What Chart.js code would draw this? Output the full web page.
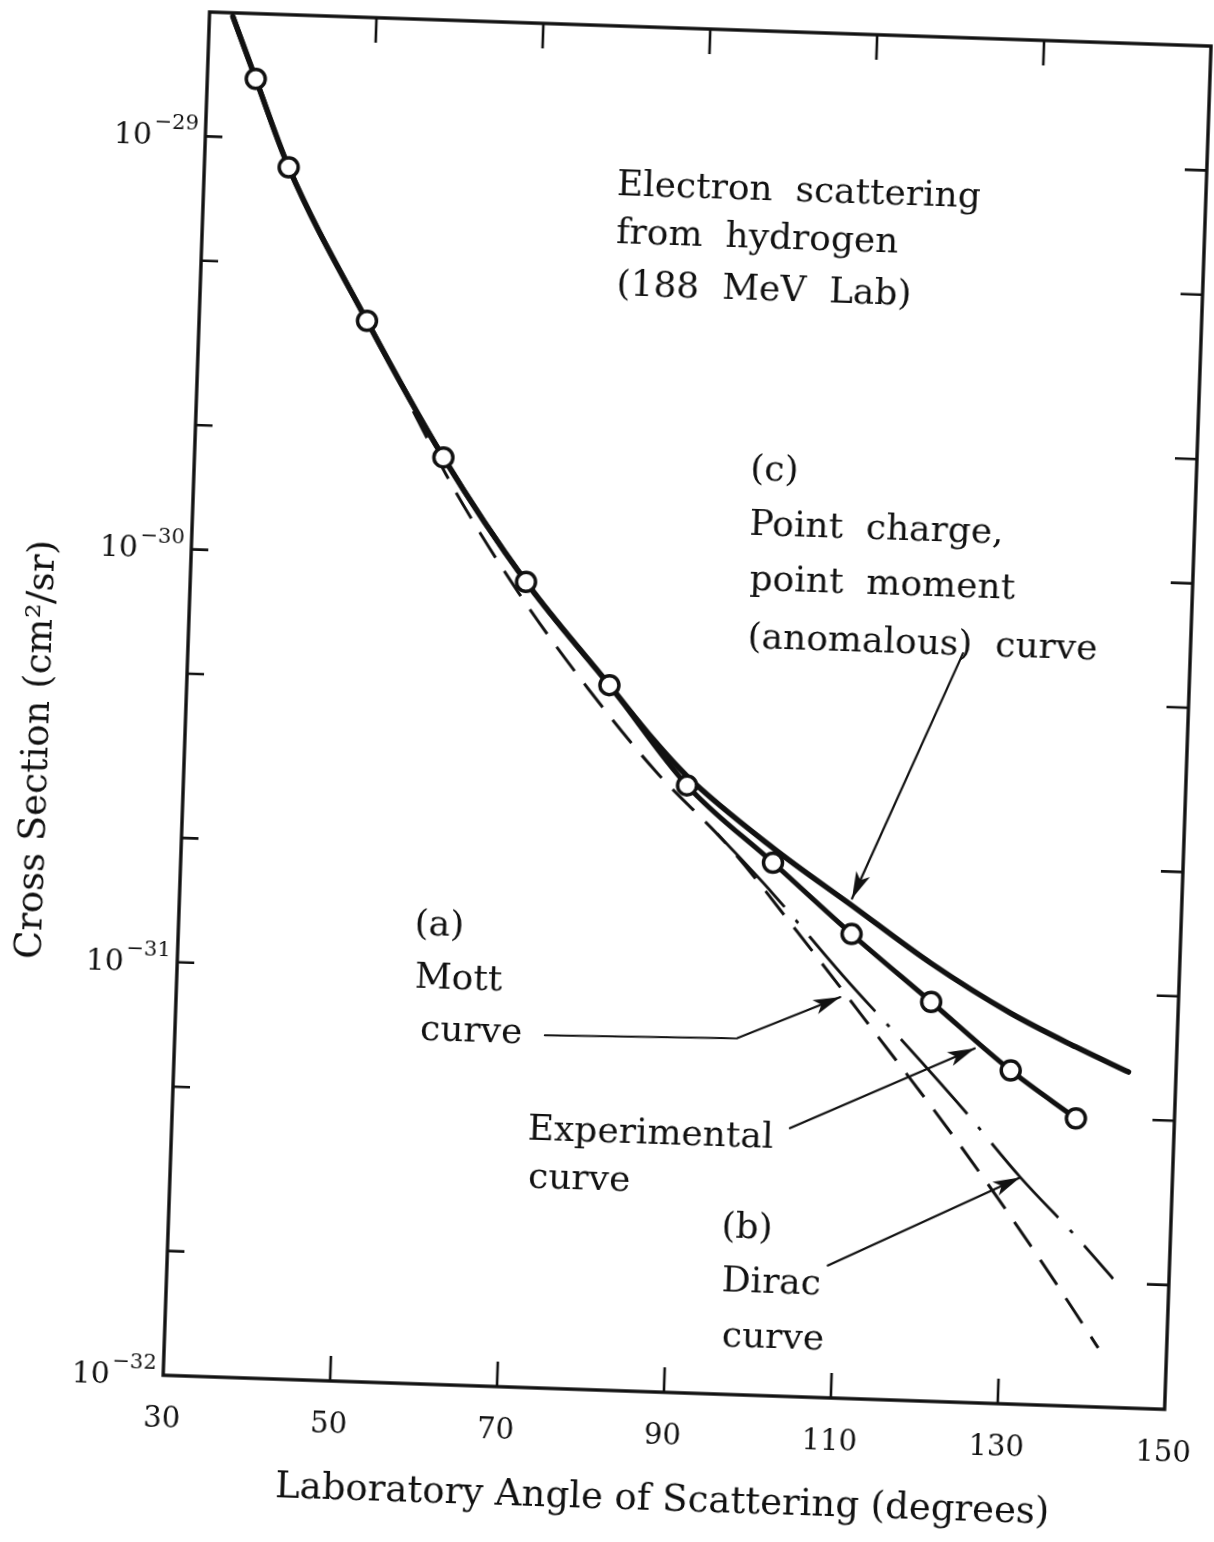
<!DOCTYPE html>
<html><head><meta charset="utf-8">
<script src="https://cdn.jsdelivr.net/npm/chart.js@4.4.1/dist/chart.umd.min.js"></script>
<style>
html,body{margin:0;padding:0;background:#fff;overflow:hidden;width:1214px;height:1542px;}
#wrap{position:absolute;left:0;top:0;width:1214px;height:1542px;transform:rotate(1.95deg);transform-origin:607px 771px;background:#fff;}
canvas{display:block;}
</style></head><body>
<div id="wrap"><canvas id="c" width="1214" height="1542"></canvas></div>
<script>
// ---- data ----
const xTickValues = [30, 50, 70, 90, 110, 130, 150];
const yDecadeValues = [1e-29, 1e-30, 1e-31, 1e-32];
const yDecadeExponents = ['\u221229', '\u221230', '\u221231', '\u221232'];
const yMinorValues = [5e-30, 2e-30, 5e-31, 2e-31, 5e-32, 2e-32];

// measured points (open circles)
const dataAngles = [35.8, 40.1, 50.1, 59.8, 70.2, 80.6, 90.3, 100.9, 110.6, 120.4, 130.2, 138.2];
const dataValues = [1.39e-29, 8.55e-30, 3.69e-30, 1.75e-30, 8.89e-31, 5.08e-31, 2.95e-31, 1.95e-31, 1.33e-31, 9.25e-32, 6.41e-32, 4.97e-32];

// experimental curve
const expAngles = [32.8, 35.8, 40.1, 50.1, 59.8, 70.2, 80.6, 90.3, 100.9, 110.6, 120.4, 130.2, 138.2];
const expValues = [1.96e-29, 1.39e-29, 8.55e-30, 3.69e-30, 1.75e-30, 8.89e-31, 5.08e-31, 2.95e-31, 1.95e-31, 1.33e-31, 9.25e-32, 6.41e-32, 4.97e-32];

// (c) point charge, point (anomalous) moment
const anomAngles = [32.8, 35.8, 40.1, 50.1, 59.8, 70.2, 80.6, 86.0, 90.3, 100.8, 110.5, 120.2, 130.0, 137.9, 144.3];
const anomValues = [1.96e-29, 1.39e-29, 8.55e-30, 3.69e-30, 1.75e-30, 8.89e-31, 5.08e-31, 3.8e-31, 3.1e-31, 2.12e-31, 1.56e-31, 1.148e-31, 8.81e-32, 7.4e-32, 6.5e-32];

// (a) Mott curve
const mottAngles = [56.0, 61.3, 69.3, 78.0, 86.5, 95.6, 104.0, 113.2, 123.6, 130.8, 137.5, 141.8];
const mottValues = [2.25e-30, 1.46e-30, 8.38e-31, 4.98e-31, 3.17e-31, 2.11e-31, 1.34e-31, 7.98e-32, 4.40e-32, 2.84e-32, 1.85e-32, 1.39e-32];

// (b) Dirac curve
const diracAngles = [94.1, 100.9, 109.7, 119.3, 124.6, 131.8, 138.8, 143.3];
const diracValues = [2.27e-31, 1.65e-31, 1.055e-31, 6.67e-32, 5.14e-32, 3.54e-32, 2.56e-32, 2.05e-32];

const xLabel = 'Laboratory Angle of Scattering (degrees)';
const yLabel = 'Cross Section (cm\u00b2/sr)';

// ---- chart ----
const pts = (xs, ys) => xs.map((v, i) => ({x: v, y: ys[i]}));
const ink = '#111';
const SERIF = '"DejaVu Serif", "Liberation Serif", serif';

function arrow(ctx, pts, head) {
  ctx.beginPath();
  ctx.moveTo(pts[0][0], pts[0][1]);
  for (let i = 1; i < pts.length; i++) ctx.lineTo(pts[i][0], pts[i][1]);
  ctx.stroke();
  const [x1, y1] = pts[pts.length - 1], [x0, y0] = pts[pts.length - 2];
  const ang = Math.atan2(y1 - y0, x1 - x0);
  const L = head || 27, W = 7.5;
  ctx.beginPath();
  ctx.moveTo(x1, y1);
  ctx.lineTo(x1 - L * Math.cos(ang) + W * Math.sin(ang), y1 - L * Math.sin(ang) - W * Math.cos(ang));
  ctx.lineTo(x1 - 0.75 * L * Math.cos(ang), y1 - 0.75 * L * Math.sin(ang));
  ctx.lineTo(x1 - L * Math.cos(ang) - W * Math.sin(ang), y1 - L * Math.sin(ang) + W * Math.cos(ang));
  ctx.closePath();
  ctx.fill();
}

const decor = {
  id: 'decor',
  afterDatasetsDraw(chart) {
    const {ctx, chartArea: a, scales: {x, y}} = chart;
    const P = (ang, val) => [x.getPixelForValue(ang), y.getPixelForValue(val)];
    ctx.save();
    ctx.strokeStyle = ink; ctx.fillStyle = ink;
    ctx.lineCap = 'square';
    // frame
    ctx.lineWidth = 3.4;
    ctx.strokeRect(a.left, a.top, a.right - a.left, a.bottom - a.top);
    // x ticks (inward, top and bottom)
    ctx.lineWidth = 2.6; ctx.lineCap = 'butt';
    xTickValues.forEach(v => {
      const px = x.getPixelForValue(v);
      if (px <= a.left + 2 || px >= a.right - 2) return;
      ctx.beginPath();
      ctx.moveTo(px, a.bottom); ctx.lineTo(px, a.bottom - 25);
      ctx.moveTo(px, a.top); ctx.lineTo(px, a.top + 25);
      ctx.stroke();
    });
    // y ticks (inward, left and right)
    yDecadeValues.concat(yMinorValues).forEach(v => {
      const py = y.getPixelForValue(v);
      if (py >= a.bottom - 2) return;
      ctx.beginPath();
      ctx.moveTo(a.left, py); ctx.lineTo(a.left + 17, py);
      ctx.moveTo(a.right, py); ctx.lineTo(a.right - 22, py);
      ctx.stroke();
    });
    // x tick labels
    ctx.font = '29px ' + SERIF;
    ctx.textAlign = 'center'; ctx.textBaseline = 'middle';
    xTickValues.forEach(v => ctx.fillText(String(v), x.getPixelForValue(v), a.bottom + 44));
    // y tick labels 10^n
    yDecadeValues.forEach((v, i) => {
      const py = y.getPixelForValue(v);
      ctx.font = '21px ' + SERIF;
      ctx.textAlign = 'right'; ctx.textBaseline = 'alphabetic';
      const ew = ctx.measureText(yDecadeExponents[i]).width;
      const right = a.left - 7;
      ctx.fillText(yDecadeExponents[i], right, py - 6);
      ctx.font = '30px ' + SERIF;
      ctx.textBaseline = 'middle';
      ctx.fillText('10', right - ew - 2, py + 2);
    });
    // axis titles
    ctx.font = '37px ' + SERIF;
    ctx.textAlign = 'center'; ctx.textBaseline = 'middle';
    ctx.fillText(xLabel, (a.left + a.right) / 2 + 2, a.bottom + 108);
    ctx.save();
    ctx.translate(37, 769);
    ctx.rotate(-Math.PI / 2);
    ctx.fillText(yLabel, 0, 0);
    ctx.restore();
    // annotation text
    ctx.font = '36px ' + SERIF;
    ctx.textAlign = 'left'; ctx.textBaseline = 'middle';
    const lines = [
      ['Electron  scattering', 597, 186],
      ['from  hydrogen', 598, 234],
      ['(188  MeV  Lab)', 600, 286],
      ['(c)', 740, 466],
      ['Point  charge,', 741, 521],
      ['point  moment', 743, 576],
      ['(anomalous)  curve', 743, 634],
      ['(a)', 420, 932],
      ['Mott', 422, 985],
      ['curve', 429, 1037],
      ['Experimental', 540, 1133],
      ['curve', 542, 1181],
      ['(b)', 737, 1224],
      ['Dirac', 739, 1278],
      ['curve', 741, 1333]
    ];
    lines.forEach(([t, lx, ly]) => ctx.fillText(t, lx, ly));
    // arrows (anchored in data space)
    ctx.lineWidth = 2.2; ctx.lineCap = 'round';
    arrow(ctx, [P(122.8, 6.49e-31), P(110.5, 1.62e-31)]);
    arrow(ctx, [P(74.3, 7.14e-32), P(97.3, 7.28e-32), P(109.5, 9.34e-32)]);
    arrow(ctx, [P(104.0, 4.46e-32), P(125.8, 7.2e-32)]);
    arrow(ctx, [P(109.1, 2.09e-32), P(131.75, 3.54e-32)]);
    ctx.restore();
  }
};

new Chart(document.getElementById('c'), {
  type: 'scatter',
  data: {
    datasets: [
      {label: 'Data', data: pts(dataAngles, dataValues), showLine: false,
       pointRadius: 9.5, pointBorderWidth: 3.5, pointBackgroundColor: '#fff', pointBorderColor: ink},
      {label: 'Experimental curve', data: pts(expAngles, expValues), showLine: true,
       borderColor: ink, borderWidth: 5, pointRadius: 0, cubicInterpolationMode: 'monotone'},
      {label: 'Point charge, point moment (anomalous) curve', data: pts(anomAngles, anomValues), showLine: true,
       borderColor: ink, borderWidth: 5.5, pointRadius: 0, cubicInterpolationMode: 'monotone', borderCapStyle: 'round'},
      {label: 'Mott curve', data: pts(mottAngles, mottValues), showLine: true,
       borderColor: ink, borderWidth: 3, borderDash: [30, 16], pointRadius: 0, cubicInterpolationMode: 'monotone'},
      {label: 'Dirac curve', data: pts(diracAngles, diracValues), showLine: true,
       borderColor: ink, borderWidth: 2.8, borderDash: [100, 17, 4, 17], pointRadius: 0, cubicInterpolationMode: 'monotone'}
    ]
  },
  options: {
    responsive: false, animation: false, devicePixelRatio: 1,
    layout: {padding: {left: 184, right: 28, top: 26, bottom: 152}},
    plugins: {legend: {display: false}, tooltip: {enabled: false}},
    scales: {
      x: {type: 'linear', min: 30, max: 150, display: false},
      y: {type: 'logarithmic', min: 1e-32, max: 2e-29, display: false}
    }
  },
  plugins: [decor]
});
</script>
</body></html>
